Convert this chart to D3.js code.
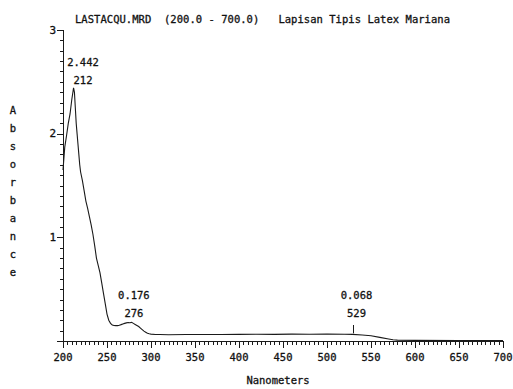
<!DOCTYPE html>
<html><head><meta charset="utf-8">
<script src="https://cdn.jsdelivr.net/npm/d3@7/dist/d3.min.js"></script>
<style>
html,body{margin:0;padding:0;background:#fff;}
text{font-family:"DejaVu Sans Mono","Liberation Mono",monospace;fill:#111;stroke:#111;stroke-width:0.3px;white-space:pre;}
</style></head><body>
<svg id="c" width="513" height="389"></svg>
<script>
const title = "LASTACQU.MRD  (200.0 - 700.0)   Lapisan Tipis Latex Mariana";
const xLabel = "Nanometers";
const yLabel = "Absorbance";
const xTicks = [200,250,300,350,400,450,500,550,600,650,700];
const yTicks = [1,2,3];
const wavelength = [200,202,204,206,208,210,212,213,214,215,216,217,218,219,220,222,224,226,228,230,232,234,236,238,240,242,244,246,248,250,252,254,256,258,260,262,264,266,268,270,272,274,276,278,280,282,284,286,288,290,292,294,296,298,300,305,310,320,340,360,380,400,420,440,460,480,500,520,529,540,550,560,570,575,580,600,650,700];
const absorbance = [1.65,1.87,1.98,2.10,2.19,2.33,2.442,2.40,2.25,2.10,2.00,1.90,1.80,1.70,1.63,1.55,1.45,1.35,1.28,1.20,1.12,1.03,0.92,0.80,0.73,0.66,0.56,0.46,0.36,0.26,0.20,0.17,0.155,0.15,0.148,0.148,0.152,0.158,0.165,0.17,0.175,0.178,0.176,0.18,0.17,0.16,0.15,0.14,0.125,0.11,0.095,0.085,0.075,0.07,0.066,0.063,0.062,0.061,0.062,0.063,0.062,0.064,0.065,0.064,0.066,0.065,0.066,0.065,0.064,0.058,0.050,0.035,0.020,0.012,0.008,0.006,0.005,0.005];
const peakNm = [212,276,529];
const peakAbs = [2.442,0.176,0.068];

const svg = d3.select("#c");
const x = d3.scaleLinear().domain([200,700]).range([63,503]);
const y = d3.scaleLinear().domain([0,3]).range([341,30]);
const ink = "#1a1a1a";

// title
svg.append("text").attr("x",75).attr("y",19).attr("dominant-baseline","central")
  .attr("font-size","10.5px").attr("textLength",375).attr("xml:space","preserve").text(title);

// x axis
const gx = svg.append("g");
gx.append("line").attr("x1",x(200)).attr("x2",x(700)).attr("y1",y(0)+0.5).attr("y2",y(0)+0.5).attr("stroke",ink);
const xMinor = d3.range(200,701,5);
gx.selectAll(".xt").data(xMinor).join("line").attr("class","xt")
  .attr("x1",d=>Math.round(x(d))+0.5).attr("x2",d=>Math.round(x(d))+0.5)
  .attr("y1",y(0)).attr("y2",d=>y(0)+(d%50===0?7:4)).attr("stroke",ink);
gx.selectAll(".xl").data(xTicks).join("text").attr("class","xl")
  .attr("x",d=>x(d)).attr("y",357).attr("text-anchor","middle").attr("dominant-baseline","central")
  .attr("font-size","10.5px").text(d=>d);

// y axis
const gy = svg.append("g");
gy.append("line").attr("x1",x(200)+0.5).attr("x2",x(200)+0.5).attr("y1",y(0)).attr("y2",y(3)).attr("stroke",ink);
const yMinor = d3.range(0,31).map(d=>d/10);
gy.selectAll(".yt").data(yMinor).join("line").attr("class","yt")
  .attr("x1",x(200)).attr("x2",(d,i)=>x(200)-(i%10===0?6:3))
  .attr("y1",d=>Math.round(y(d))+0.5).attr("y2",d=>Math.round(y(d))+0.5).attr("stroke",ink);
gy.selectAll(".yl").data(yTicks).join("text").attr("class","yl")
  .attr("x",x(200)-7).attr("y",d=>y(d)).attr("text-anchor","end").attr("dominant-baseline","central")
  .attr("font-size","11px").text(d=>d);

// axis titles
svg.append("text").attr("x",278).attr("y",380).attr("text-anchor","middle").attr("dominant-baseline","central")
  .attr("font-size","10.5px").text(xLabel);
svg.selectAll(".ylab").data(yLabel.split("")).join("text").attr("class","ylab")
  .attr("x",13).attr("y",(d,i)=>110+i*18).attr("text-anchor","middle").attr("dominant-baseline","central")
  .attr("font-size","10.5px").text(d=>d);

// spectrum
const pts = wavelength.map((w,i)=>[w,absorbance[i]]);
svg.append("path").datum(pts).attr("fill","none").attr("stroke",ink).attr("stroke-width",1.1)
  .attr("d",d3.line().x(d=>x(d[0])).y(d=>y(d[1])));

// peak annotations
const interp = w => { const i = d3.bisectLeft(wavelength,w); if(wavelength[i]===w) return absorbance[i];
  const t=(w-wavelength[i-1])/(wavelength[i]-wavelength[i-1]); return absorbance[i-1]+t*(absorbance[i]-absorbance[i-1]); };
peakNm.forEach((w,i)=>{
  const px = x(w), cy = y(interp(w));
  const lx = Math.max(px+4, x(200)+20);
  const ly = Math.min(cy-8, 313);
  svg.append("text").attr("x",lx).attr("y",ly).attr("text-anchor","middle").attr("dominant-baseline","central")
    .attr("font-size","10.5px").text(w);
  svg.append("text").attr("x",lx).attr("y",ly-18).attr("text-anchor","middle").attr("dominant-baseline","central")
    .attr("font-size","10.5px").text(d3.format(".3f")(peakAbs[i]));
  if (cy - ly > 14) svg.append("line").attr("x1",Math.round(px)+0.5).attr("x2",Math.round(px)+0.5).attr("y1",ly+12).attr("y2",cy-1)
    .attr("stroke",ink);
});
</script></body></html>
